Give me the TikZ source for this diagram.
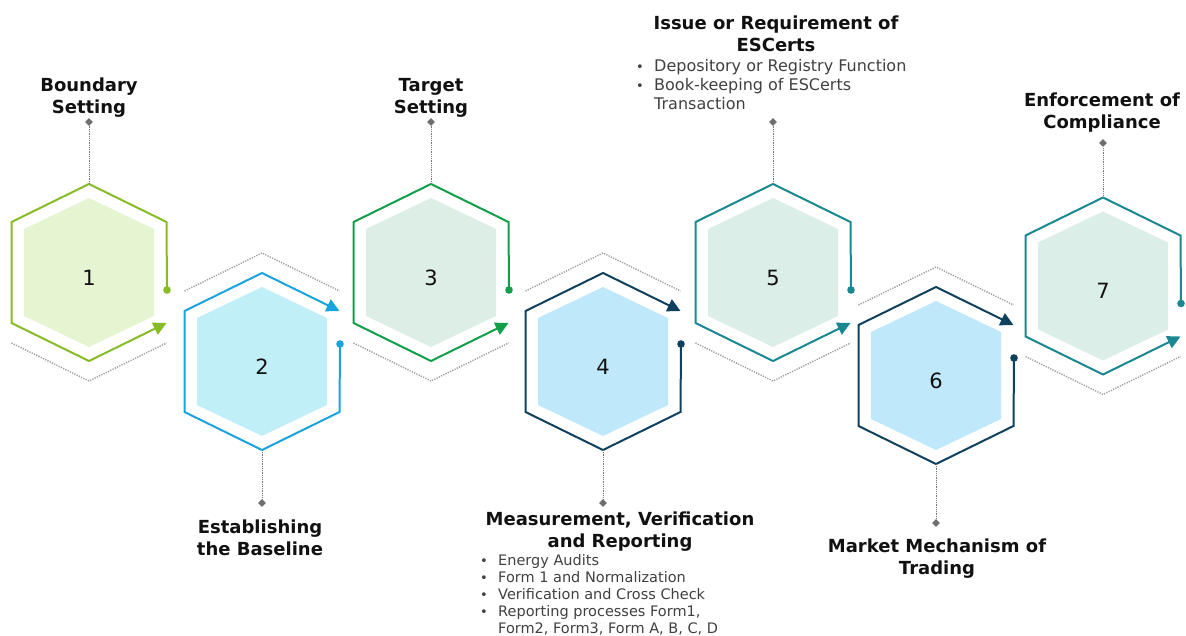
\documentclass[tikz,border=0pt]{standalone}
\usepackage{fontspec}
\setmainfont{DejaVu Sans}
\usetikzlibrary{arrows.meta,shapes.geometric}
\definecolor{lnA}{HTML}{86BC25}\definecolor{flA}{HTML}{E5F4D1}
\definecolor{lnB}{HTML}{1AA4DE}\definecolor{flB}{HTML}{C1EFF7}
\definecolor{lnC}{HTML}{11A04A}\definecolor{flC}{HTML}{DCEEE6}
\definecolor{lnD}{HTML}{0F415E}\definecolor{flD}{HTML}{BFE8FA}
\definecolor{lnE}{HTML}{198893}\definecolor{flE}{HTML}{DCEEE8}
\definecolor{zigc}{HTML}{9A9A9A}
\definecolor{stemc}{HTML}{767676}
\definecolor{diamc}{HTML}{6E6E6E}
\definecolor{titc}{HTML}{111111}
\definecolor{bulc}{HTML}{404040}
\tikzset{
  hexline/.style={line width=2pt},
  arrowend/.style={-{Triangle[length=13pt,width=13pt]}},
  zig/.style={draw=zigc,line width=1.4pt,dash pattern=on 1.2pt off 1.3pt},
  stem/.style={draw=stemc,line width=1pt,dash pattern=on 0.9pt off 0.9pt},
  diam/.style={diamond,fill=diamc,minimum size=8pt,inner sep=0pt},
  num/.style={font=\fontsize{21}{24}\selectfont,text=titc,inner sep=0pt},
  title/.style={font=\fontsize{18}{22}\selectfont\bfseries,text=titc,align=center,inner sep=0pt},
  bullets/.style={font=\fontsize{14.5}{17}\selectfont,text=bulc,inner sep=0pt,anchor=base west},
  bulletsb/.style={font=\fontsize{16}{19}\selectfont,text=bulc,inner sep=0pt,anchor=base west}
}
\newcommand\bul{{\fontsize{13}{10}\selectfont •}}
% top-row hexagon: #1 number, #2 cx, #3 cy, #4 line colour, #5 fill colour, #6 stem length
\newcommand\hexTop[6]{%
\begin{scope}[shift={(#2,#3)}]
  \fill[#5] (0,-74.5) -- (65,-43.5) -- (65,43.5) -- (0,74.5) -- (-65,43.5) -- (-65,-43.5) -- cycle;
  \draw[hexline,#4,arrowend] (78,17.5) -- (77.5,-50.5) -- (0,-88.5) -- (-77.5,-50.5) -- (-77.5,50.5) -- (0,88.5) -- (77.5,50.5);
  \fill[#4] (78,17.5) circle (3.8pt);
  \draw[zig] (-77.5,70.5) -- (0,108.5) -- (77.5,70.5);
  \coordinate (v#1) at (0,-88.5);
  \node[diam] (d#1) at (0,-#6) {};
  \draw[stem] (v#1) -- (d#1);
  \node[num] (n#1) at (0,5) {#1};
\end{scope}}
% bottom-row hexagon
\newcommand\hexBot[6]{%
\begin{scope}[shift={(#2,#3)}]
  \fill[#5] (0,-74.5) -- (65,-43.5) -- (65,43.5) -- (0,74.5) -- (-65,43.5) -- (-65,-43.5) -- cycle;
  \draw[hexline,#4,arrowend] (78,-17.5) -- (77.5,50.5) -- (0,88.5) -- (-77.5,50.5) -- (-77.5,-50.5) -- (0,-88.5) -- (77.5,-50.5);
  \fill[#4] (78,-17.5) circle (3.8pt);
  \draw[zig] (-77.5,-70.5) -- (0,-108.5) -- (77.5,-70.5);
  \coordinate (v#1) at (0,88.5);
  \node[diam] (d#1) at (0,#6) {};
  \draw[stem] (v#1) -- (d#1);
  \node[num] (n#1) at (0,5) {#1};
\end{scope}}
\begin{document}
\begin{tikzpicture}[x=1pt,y=-1pt]
\useasboundingbox (0,0) rectangle (1186,636);
\hexTop{1}{89}{272.5}{lnA}{flA}{150.5}
\hexBot{2}{262}{361.5}{lnB}{flB}{141.5}
\hexTop{3}{431}{272.5}{lnC}{flC}{150.5}
\hexBot{4}{603}{361.5}{lnD}{flD}{141.5}
\hexTop{5}{773}{272.5}{lnE}{flE}{150.5}
\hexBot{6}{936}{375.5}{lnD}{flD}{147.5}
\hexTop{7}{1103}{286}{lnE}{flE}{143}
% titles
\node[title] (t1) at (89,97.5) {Boundary\\Setting};
\node[title] (t2) at (260,537.5) {Establishing\\the Baseline};
\node[title] (t3) at (431,97.5) {Target\\Setting};
\node[title] (t4) at (620,532) {Measurement, Verification\\and Reporting};
\node[title] (t5) at (776,34) {Issue or Requirement of\\ESCerts};
\node[title] (t6) at (937,559) {Market Mechanism of\\Trading};
\node[title] (t7) at (1102,112.5) {Enforcement of\\Compliance};
% bullet lists
\node[bulletsb] (b5) at (636,71.5) {\begin{tabular}[t]{@{}p{18pt}@{}l@{}}
\bul & Depository or Registry Function\\
\bul & Book-keeping of ESCerts\\
 & Transaction
\end{tabular}};
\node[bullets] (b4) at (480,565) {\begin{tabular}[t]{@{}p{18pt}@{}l@{}}
\bul & Energy Audits\\
\bul & Form 1 and Normalization\\
\bul & Verification and Cross Check\\
\bul & Reporting processes Form1,\\
 & Form2, Form3, Form A, B, C, D
\end{tabular}};
\end{tikzpicture}
\end{document}
